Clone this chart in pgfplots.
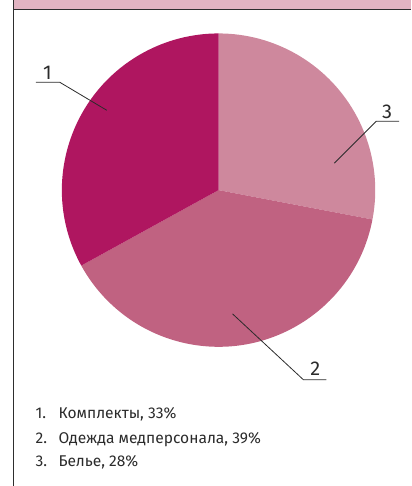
\documentclass[border=0pt]{standalone}
\usepackage{pgfplots}
\pgfplotsset{compat=1.18}
\usepackage{fontspec}
\setmainfont{Fira Sans}
\definecolor{hdr}{HTML}{E2B4C2}
\definecolor{cA}{HTML}{AF1660}
\definecolor{cB}{HTML}{C06281}
\definecolor{cC}{HTML}{CE889D}
\definecolor{txt}{HTML}{2B2B2B}
\definecolor{frame}{HTML}{2E2E2E}
\begin{document}
\begin{tikzpicture}
% shares in percent
\def\shareA{33}\def\shareB{39}\def\shareC{28}
\pgfmathsetmacro\aStart{90}
\pgfmathsetmacro\aC{90-\shareC*3.6}
\pgfmathsetmacro\aB{\aC-\shareB*3.6}
\pgfmathsetmacro\aA{\aB-\shareA*3.6}
\begin{axis}[
  scale only axis, width=412pt, height=486pt,
  xmin=0, xmax=412, ymin=0, ymax=486, y dir=reverse,
  hide axis, clip=false,
]
\path (axis cs:0,0) rectangle (axis cs:412,486);
% header
\fill[hdr] (axis cs:13.5,0) rectangle (axis cs:412,9);
\draw[frame, line width=1.3pt] (axis cs:13.5,9.3) -- (axis cs:412,9.3);
\draw[frame, line width=1pt] (axis cs:13.5,0) -- (axis cs:13.5,486);
% pie
\fill[cC] (axis cs:219,190) -- ++(\aStart:157pt) arc[start angle=\aStart, end angle=\aC, radius=157pt] -- cycle;
\fill[cB] (axis cs:219,190) -- ++(\aC:157pt) arc[start angle=\aC, end angle=\aB, radius=157pt] -- cycle;
\fill[cA] (axis cs:219,190) -- ++(\aB:157pt) arc[start angle=\aB, end angle=\aA, radius=157pt] -- cycle;
% leaders
\draw[txt, line width=0.8pt] (axis cs:36,82) -- (axis cs:60,82) -- (axis cs:107,110);
\node[txt, font=\fontsize{20}{20}\selectfont, anchor=base] at (axis cs:47.5,79) {1};
\draw[txt, line width=0.8pt] (axis cs:335,163) -- (axis cs:377,121) -- (axis cs:400,121);
\node[txt, font=\fontsize{20}{20}\selectfont, anchor=base] at (axis cs:388,118) {3};
\draw[txt, line width=0.8pt] (axis cs:233,314) -- (axis cs:304,380) -- (axis cs:327,380);
\node[txt, font=\fontsize{20}{20}\selectfont, anchor=base] at (axis cs:316,376) {2};
% legend
\node[txt, font=\fontsize{15.6}{15.6}\selectfont, anchor=base west, inner sep=0] at (axis cs:35.5,419) {1.};
\node[txt, font=\fontsize{15.6}{15.6}\selectfont, anchor=base west, inner sep=0] at (axis cs:58.5,419) {Комплекты, 33\%};
\node[txt, font=\fontsize{15.6}{15.6}\selectfont, anchor=base west, inner sep=0] at (axis cs:35.5,443.5) {2.};
\node[txt, font=\fontsize{15.6}{15.6}\selectfont, anchor=base west, inner sep=0] at (axis cs:58.5,443.5) {Одежда медперсонала, 39\%};
\node[txt, font=\fontsize{15.6}{15.6}\selectfont, anchor=base west, inner sep=0] at (axis cs:35.5,467) {3.};
\node[txt, font=\fontsize{15.6}{15.6}\selectfont, anchor=base west, inner sep=0] at (axis cs:58.5,467) {Белье, 28\%};
\end{axis}
\end{tikzpicture}
\end{document}
